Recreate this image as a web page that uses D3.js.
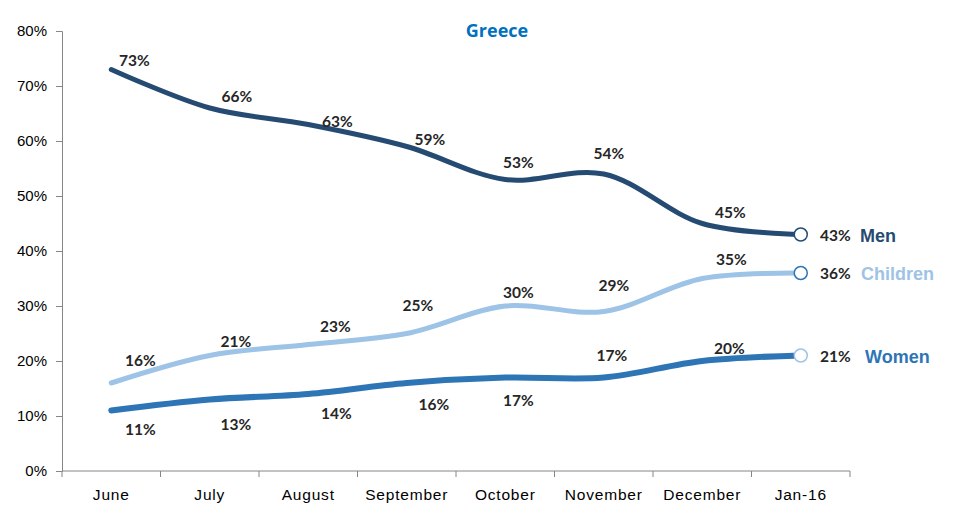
<!DOCTYPE html>
<html>
<head>
<meta charset="utf-8">
<script src="https://cdn.jsdelivr.net/npm/d3@7"></script>
<style>
  body { margin: 0; background: #fff; }
  svg { display: block; }
</style>
</head>
<body>
<svg id="chart" width="962" height="507"></svg>
<script>
const months = ["June", "July", "August", "September", "October", "November", "December", "Jan-16"];
const men = [73, 66, 63, 59, 53, 54, 45, 43];
const children = [16, 21, 23, 25, 30, 29, 35, 36];
const women = [11, 13, 14, 16, 17, 17, 20, 21];
const yTicks = [0, 10, 20, 30, 40, 50, 60, 70, 80];

// label offsets (layout only)
const menDx = [23, 27, 29, 23, 13, 5, 28, 0];
const menDy = [-9, -12, -3, -7, -17, -21, -11, 0];
const childDx = [29, 26, 27, 11, 13, 10, 29, 0];
const childDy = [-23, -14, -18, -28, -14, -26, -19, 0];
const womenDx = [29, 26, 28, 27, 13, 8, 27, 0];
const womenDy = [19, 25, 19, 21, 23, -22, -13, 0];

const svg = d3.select("#chart");
const mLeft = 62, mRight = 850, mTop = 31, mBottom = 471;

const x = d3.scaleBand().domain(months).range([mLeft, mRight]);
const y = d3.scaleLinear().domain([0, 80]).range([mBottom, mTop]);

// y axis
const yAxis = svg.append("g")
    .attr("transform", `translate(${mLeft},0)`)
    .call(d3.axisLeft(y).tickValues(yTicks).tickSize(6).tickPadding(9).tickFormat(d => d + "%"));
yAxis.select(".domain").attr("stroke", "#868686");
yAxis.selectAll(".tick line").attr("stroke", "#868686");
yAxis.selectAll("text")
    .attr("font-family", "Liberation Sans, Arial, sans-serif")
    .attr("font-size", "15px")
    .attr("fill", "#000");

// x axis with boundary ticks
const xAxis = svg.append("g")
    .attr("transform", `translate(0,${mBottom})`);
xAxis.append("line")
    .attr("x1", mLeft).attr("x2", mRight)
    .attr("stroke", "#868686");
const bounds = months.map(m => x(m)).concat([mRight]);
xAxis.selectAll(".bt")
    .data(bounds)
    .join("line")
    .attr("x1", d => d).attr("x2", d => d)
    .attr("y1", 0).attr("y2", 6)
    .attr("stroke", "#868686");
xAxis.selectAll(".xl")
    .data(months)
    .join("text")
    .attr("x", d => x(d) + x.bandwidth() / 2)
    .attr("y", 29)
    .attr("text-anchor", "middle")
    .attr("font-family", "Liberation Sans, Arial, sans-serif")
    .attr("font-size", "15.5px")
    .attr("letter-spacing", "0.8px")
    .attr("fill", "#000")
    .text(d => d);

// title
svg.append("text")
    .attr("x", 497).attr("y", 37)
    .attr("text-anchor", "middle")
    .attr("font-family", "Open Sans, DejaVu Sans, sans-serif")
    .attr("font-weight", "bold")
    .attr("font-size", "18px")
    .attr("fill", "#0070C0")
    .text("Greece");

const cx = m => x(m) + x.bandwidth() / 2;
const line = d3.line()
    .x((d, i) => cx(months[i]))
    .y(d => y(d))
    .curve(d3.curveCatmullRom.alpha(0.5));

const series = [
    { name: "Men", values: men, color: "#264B73", width: 5, ring: "#264B73", nameColor: "#264B73", dx: menDx, dy: menDy, nameX: 860 },
    { name: "Children", values: children, color: "#9DC3E6", width: 5, ring: "#2E75B6", nameColor: "#9DC3E6", dx: childDx, dy: childDy, nameX: 861 },
    { name: "Women", values: women, color: "#2E75B6", width: 6, ring: "#9DC3E6", nameColor: "#2E75B6", dx: womenDx, dy: womenDy, nameX: 865 }
];

const labelFont = "Lato, Open Sans, DejaVu Sans, sans-serif";

series.forEach(s => {
    svg.append("path")
        .datum(s.values)
        .attr("d", line)
        .attr("fill", "none")
        .attr("stroke", s.color)
        .attr("stroke-width", s.width)
        .attr("stroke-linecap", "round");

    // data labels (all but last)
    svg.selectAll(null)
        .data(s.values.slice(0, -1))
        .join("text")
        .attr("x", (d, i) => cx(months[i]) + s.dx[i])
        .attr("y", (d, i) => y(d) + s.dy[i] + 5.5)
        .attr("text-anchor", "middle")
        .attr("font-family", labelFont)
        .attr("font-weight", "bold")
        .attr("font-size", "15.5px")
        .attr("fill", "#262626")
        .text(d => d + "%");

    // end marker
    const last = s.values.length - 1;
    svg.append("circle")
        .attr("cx", cx(months[last]))
        .attr("cy", y(s.values[last]))
        .attr("r", 6.5)
        .attr("fill", "#fff")
        .attr("stroke", s.ring)
        .attr("stroke-width", 1.5);

    svg.append("text")
        .attr("x", 820)
        .attr("y", y(s.values[last]) + 6)
        .attr("font-family", labelFont)
        .attr("font-weight", "bold")
        .attr("font-size", "15.5px")
        .attr("fill", "#262626")
        .text(s.values[last] + "%");

    svg.append("text")
        .attr("x", s.nameX)
        .attr("y", y(s.values[last]) + 7)
        .attr("font-family", "Liberation Sans, Arial, sans-serif")
        .attr("font-weight", "bold")
        .attr("font-size", "18px")
        .attr("fill", s.nameColor)
        .text(s.name);
});
</script>
</body>
</html>
